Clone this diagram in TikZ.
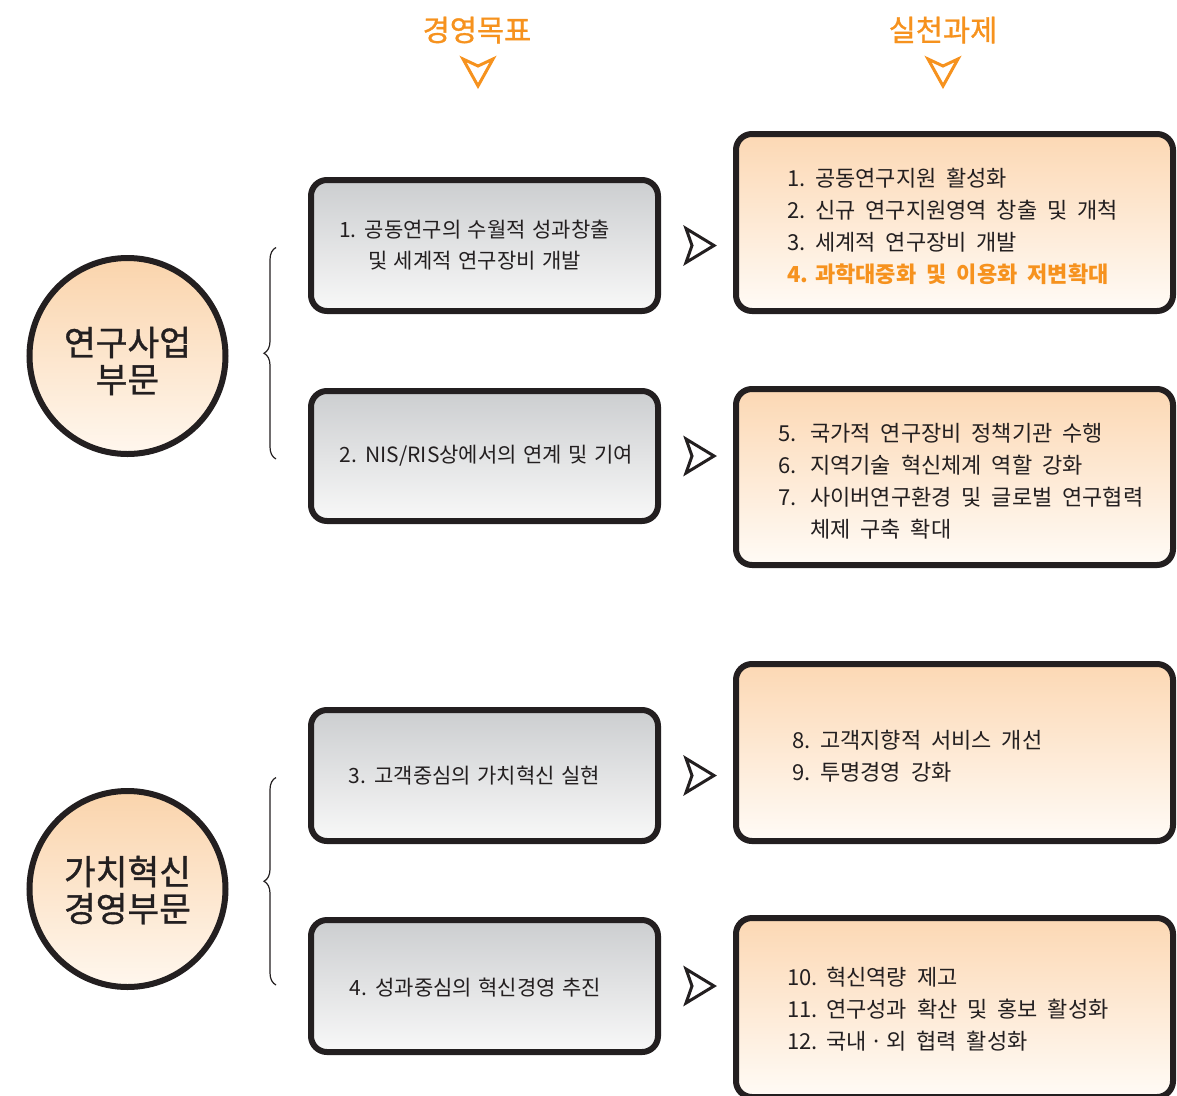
\documentclass[tikz,border=0pt]{standalone}
\usepackage{fontspec}
\setmainfont{Noto Sans CJK KR}[WordSpace=2]
\newfontfamily\krgray{Noto Sans CJK KR}[WordSpace=1.4]
\newfontfamily\krmed{Noto Sans CJK KR}[FakeBold=1]
\usetikzlibrary{decorations.pathreplacing}
\definecolor{ink}{RGB}{35,31,32}
\definecolor{orangeT}{RGB}{246,146,30}
\definecolor{peachTop}{RGB}{252,216,180}
\definecolor{peachBot}{RGB}{255,251,246}
\definecolor{circTop}{RGB}{250,212,172}
\definecolor{circBot}{RGB}{255,247,238}
\definecolor{grayTop}{RGB}{204,206,208}
\definecolor{grayBot}{RGB}{248,248,248}
\newcommand\numbox[2]{\makebox[#1][l]{#2}}
\tikzset{
  boxline/.style={draw=ink, line width=6pt, rounded corners=16pt},
  graybox/.style={boxline, top color=grayTop, bottom color=grayBot, minimum width=347pt, inner sep=0pt},
  peachbox/.style={boxline, top color=peachTop, bottom color=peachBot, minimum width=437pt, inner sep=0pt},
  circbox/.style={draw=ink, line width=6pt, circle, top color=circTop, bottom color=circBot, minimum size=196pt, inner sep=0pt},
  circtext/.style={align=center, text=ink, inner sep=0pt, font=\krmed\fontsize{34.5}{37}\selectfont},
  gtext/.style={text=ink, align=center, inner sep=0pt, font=\krgray\fontsize{21}{31}\selectfont},
  listline/.style={anchor=base west, text=ink, inner sep=0pt, font=\fontsize{22}{24}\selectfont},
  headtext/.style={text=orangeT, inner sep=0pt, font=\krmed\fontsize{29.5}{32}\selectfont},
  dartline/.style={draw=ink, line width=3pt, line join=miter, fill=none},
  bracestyle/.style={draw=ink, line width=1.2pt, decorate, decoration={brace, amplitude=12pt}},
  dartR/.pic={\draw[dartline] (-13,-17) -- (15,0) -- (-13,17) -- (-7,0) -- cycle;},
  dartD/.pic={\draw[dartline, draw=orangeT] (-15,-13) -- (0,14) -- (15,-13) -- (0,-6) -- cycle;}
}
\begin{document}
\begin{tikzpicture}[x=1pt, y=-1pt]
\useasboundingbox (0,0) rectangle (1177,1095);
\clip (0,0) rectangle (1177,1095);

% headers
\node[headtext] (h1) at (477,30) {경영목표};
\node[headtext] (h2) at (943,30) {실천과제};
\pic at (478,72) {dartD};
\pic at (943,72) {dartD};

% circles
\node[circbox] (c1) at (127.5,356) {};
\node[circbox] (c2) at (127.5,889) {};
\node[circtext] (c1t) at ([yshift=-5pt]c1.center) {연구사업\\부문};
\node[circtext] (c2t) at ([yshift=-1pt]c2.center) {가치혁신\\경영부문};

% gray boxes
\node[graybox, minimum height=131pt] (g1) at (484.5,245.5) {};
\node[graybox, minimum height=130pt] (g2) at (484.5,456) {};
\node[graybox, minimum height=131pt] (g3) at (484.5,775.5) {};
\node[graybox, minimum height=132pt] (g4) at (484.5,986) {};
\node[gtext] (g1t) at ([xshift=-10pt]g1.center) {1. 공동연구의 수월적 성과창출\\및 세계적 연구장비 개발};
\node[gtext] (g2t) at ([xshift=2pt]g2.center) {2. NIS/RIS상에서의 연계 및 기여};
\node[gtext] (g3t) at ([xshift=-10pt]g3.center) {3. 고객중심의 가치혁신 실현};
\node[gtext] (g4t) at ([xshift=-9pt,yshift=-2pt]g4.center) {4. 성과중심의 혁신경영 추진};

% peach boxes
\node[peachbox, minimum height=177pt] (o1) at (954.5,222.5) {};
\node[peachbox, minimum height=176pt] (o2) at (954.5,477) {};
\node[peachbox, minimum height=177pt] (o3) at (954.5,752.5) {};
\node[peachbox, minimum height=179pt] (o4) at (954.5,1007.5) {};

% list texts
\node[listline] (o1a) at (787,186) {\numbox{28pt}{1.}공동연구지원 활성화};
\node[listline] (o1b) at (787,218) {\numbox{28pt}{2.}신규 연구지원영역 창출 및 개척};
\node[listline] (o1c) at (787,250) {\numbox{28pt}{3.}세계적 연구장비 개발};
\node[listline, text=orangeT, font=\fontsize{22}{24}\selectfont\bfseries] (o1d) at (787,282) {\numbox{28pt}{4.}과학대중화 및 이용화 저변확대};

\node[listline] (o2a) at (778,441) {\numbox{32pt}{5.}국가적 연구장비 정책기관 수행};
\node[listline] (o2b) at (778,473) {\numbox{32pt}{6.}지역기술 혁신체계 역할 강화};
\node[listline] (o2c) at (778,505) {\numbox{32pt}{7.}사이버연구환경 및 글로벌 연구협력};
\node[listline] (o2d) at (810,537) {체제 구축 확대};

\node[listline] (o3a) at (792,748) {\numbox{28pt}{8.}고객지향적 서비스 개선};
\node[listline] (o3b) at (792,780) {\numbox{28pt}{9.}투명경영 강화};

\node[listline] (o4a) at (787,985) {\numbox{39pt}{10.}혁신역량 제고};
\node[listline] (o4b) at (787,1017) {\numbox{39pt}{11.}연구성과 확산 및 홍보 활성화};
\node[listline] (o4c) at (787,1049) {\numbox{39pt}{12.}국내\,·\,외 협력 활성화};

% darts between columns
\coordinate (dx) at (699,0);
\pic at (g1.center -| dx) {dartR};
\pic at (g2.center -| dx) {dartR};
\pic at (g3.center -| dx) {dartR};
\pic at (g4.center -| dx) {dartR};

% braces
\coordinate (bx) at (276,0);
\draw[bracestyle] ([yshift=-3pt]g2.center -| bx) -- ([yshift=-2pt]g1.center -| bx);
\draw[bracestyle] ([yshift=1pt]g4.center -| bx) -- ([yshift=-2pt]g3.center -| bx);
\end{tikzpicture}
\end{document}
